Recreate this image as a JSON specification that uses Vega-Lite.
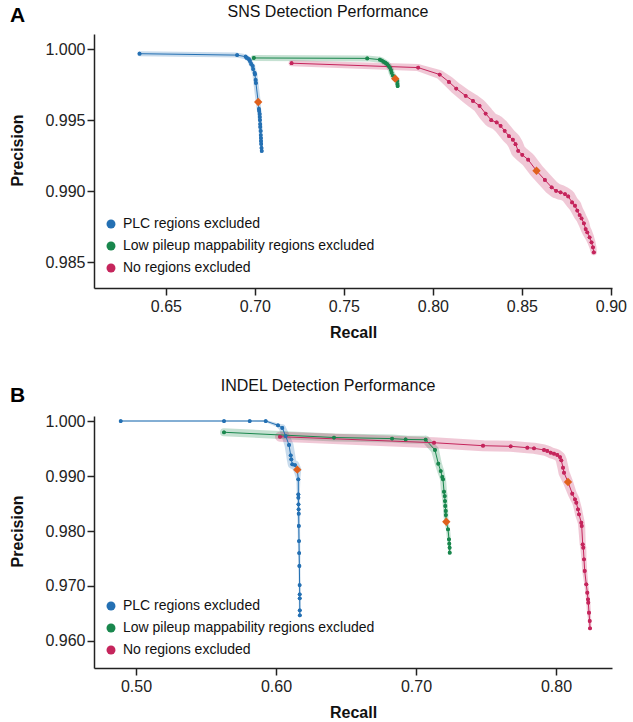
{
  "$schema": "https://vega.github.io/schema/vega-lite/v6.json",
  "padding": {"left": 9, "top": 4, "right": 5, "bottom": 0},
  "spacing": 38,
  "resolve": {"scale": {"color": "independent"}, "legend": {"color": "independent"}},
  "config": {
    "font": "Liberation Sans",
    "view": {"stroke": null},
    "axis": {"grid": false, "domainColor": "#222", "domainWidth": 1.5, "tickColor": "#222", "tickWidth": 1.5, "tickSize": 7, "labelFont": "Liberation Sans", "labelFontSize": 16, "labelColor": "#222", "labelPadding": 2, "titleFont": "Liberation Sans", "titleFontSize": 16, "titleFontWeight": "bold", "titleColor": "#111"},
    "axisX": {"labelPadding": 3, "titlePadding": 10},
    "axisY": {"titlePadding": 19},
    "title": {"font": "Liberation Sans", "fontSize": 16, "fontWeight": "normal", "color": "#111"},
    "legend": {"orient": "none", "legendX": 10, "legendY": 183, "title": null, "symbolType": "circle", "symbolSize": 80, "symbolOpacity": 1, "symbolStrokeWidth": 0, "labelFont": "Liberation Sans", "labelFontSize": 14, "labelColor": "#111", "labelLimit": 0, "rowPadding": 8, "labelOffset": 5, "padding": 0}
  },
  "datasets": {
    "sns": [
      {"set": "PLC regions excluded", "recall": 0.6352, "precision": 0.9997, "ci": 0.25},
      {"set": "PLC regions excluded", "recall": 0.6900, "precision": 0.9996, "ci": 0.25},
      {"set": "PLC regions excluded", "recall": 0.69478, "precision": 0.99949, "ci": 0.25},
      {"set": "PLC regions excluded", "recall": 0.69551, "precision": 0.99940, "ci": 0.25},
      {"set": "PLC regions excluded", "recall": 0.69663, "precision": 0.99931, "ci": 0.25},
      {"set": "PLC regions excluded", "recall": 0.69719, "precision": 0.99919, "ci": 0.25},
      {"set": "PLC regions excluded", "recall": 0.69792, "precision": 0.99898, "ci": 0.25},
      {"set": "PLC regions excluded", "recall": 0.69871, "precision": 0.99884, "ci": 0.25},
      {"set": "PLC regions excluded", "recall": 0.69904, "precision": 0.99862, "ci": 0.25},
      {"set": "PLC regions excluded", "recall": 0.69983, "precision": 0.99834, "ci": 0.25},
      {"set": "PLC regions excluded", "recall": 0.70000, "precision": 0.99825, "ci": 0.25},
      {"set": "PLC regions excluded", "recall": 0.70039, "precision": 0.99785, "ci": 0.25},
      {"set": "PLC regions excluded", "recall": 0.70056, "precision": 0.99764, "ci": 0.25},
      {"set": "PLC regions excluded", "recall": 0.70185, "precision": 0.99629, "ci": 0.25, "best": true},
      {"set": "PLC regions excluded", "recall": 0.70225, "precision": 0.99580, "ci": 0.22},
      {"set": "PLC regions excluded", "recall": 0.70242, "precision": 0.99566, "ci": 0.22},
      {"set": "PLC regions excluded", "recall": 0.70264, "precision": 0.99545, "ci": 0.22},
      {"set": "PLC regions excluded", "recall": 0.70270, "precision": 0.99524, "ci": 0.22},
      {"set": "PLC regions excluded", "recall": 0.70281, "precision": 0.99502, "ci": 0.2},
      {"set": "PLC regions excluded", "recall": 0.70298, "precision": 0.99474, "ci": 0.2},
      {"set": "PLC regions excluded", "recall": 0.70303, "precision": 0.99453, "ci": 0.2},
      {"set": "PLC regions excluded", "recall": 0.70320, "precision": 0.99425, "ci": 0.2},
      {"set": "PLC regions excluded", "recall": 0.70326, "precision": 0.99396, "ci": 0.18},
      {"set": "PLC regions excluded", "recall": 0.70337, "precision": 0.99375, "ci": 0.18},
      {"set": "PLC regions excluded", "recall": 0.70343, "precision": 0.99354, "ci": 0.18},
      {"set": "PLC regions excluded", "recall": 0.70354, "precision": 0.99333, "ci": 0.16},
      {"set": "PLC regions excluded", "recall": 0.70371, "precision": 0.99305, "ci": 0.15},
      {"set": "PLC regions excluded", "recall": 0.70382, "precision": 0.99284, "ci": 0.15},

      {"set": "Low pileup mappability regions excluded", "recall": 0.6994, "precision": 0.99940, "ci": 0.3},
      {"set": "Low pileup mappability regions excluded", "recall": 0.7631, "precision": 0.99937, "ci": 0.3},
      {"set": "Low pileup mappability regions excluded", "recall": 0.77022, "precision": 0.99928, "ci": 0.3},
      {"set": "Low pileup mappability regions excluded", "recall": 0.77135, "precision": 0.99922, "ci": 0.3},
      {"set": "Low pileup mappability regions excluded", "recall": 0.77247, "precision": 0.99912, "ci": 0.3},
      {"set": "Low pileup mappability regions excluded", "recall": 0.77343, "precision": 0.99905, "ci": 0.3},
      {"set": "Low pileup mappability regions excluded", "recall": 0.77433, "precision": 0.99896, "ci": 0.3},
      {"set": "Low pileup mappability regions excluded", "recall": 0.77511, "precision": 0.99884, "ci": 0.3},
      {"set": "Low pileup mappability regions excluded", "recall": 0.77584, "precision": 0.99872, "ci": 0.3},
      {"set": "Low pileup mappability regions excluded", "recall": 0.77640, "precision": 0.99855, "ci": 0.3},
      {"set": "Low pileup mappability regions excluded", "recall": 0.77680, "precision": 0.99836, "ci": 0.3},
      {"set": "Low pileup mappability regions excluded", "recall": 0.77753, "precision": 0.99816, "ci": 0.3},
      {"set": "Low pileup mappability regions excluded", "recall": 0.77882, "precision": 0.99794, "ci": 0.3, "best": true},
      {"set": "Low pileup mappability regions excluded", "recall": 0.77994, "precision": 0.99778, "ci": 0.28},
      {"set": "Low pileup mappability regions excluded", "recall": 0.78006, "precision": 0.99756, "ci": 0.25},
      {"set": "Low pileup mappability regions excluded", "recall": 0.78017, "precision": 0.99742, "ci": 0.2},

      {"set": "No regions excluded", "recall": 0.7206, "precision": 0.99903, "ci": 0.3},
      {"set": "No regions excluded", "recall": 0.7917, "precision": 0.99872, "ci": 0.35},
      {"set": "No regions excluded", "recall": 0.8038, "precision": 0.99823, "ci": 0.45},
      {"set": "No regions excluded", "recall": 0.8090, "precision": 0.99771, "ci": 0.55},
      {"set": "No regions excluded", "recall": 0.8131, "precision": 0.99724, "ci": 0.6},
      {"set": "No regions excluded", "recall": 0.8184, "precision": 0.99673, "ci": 0.65},
      {"set": "No regions excluded", "recall": 0.8225, "precision": 0.99637, "ci": 0.7},
      {"set": "No regions excluded", "recall": 0.8262, "precision": 0.99602, "ci": 0.7},
      {"set": "No regions excluded", "recall": 0.8296, "precision": 0.99548, "ci": 0.75},
      {"set": "No regions excluded", "recall": 0.8328, "precision": 0.99501, "ci": 0.75},
      {"set": "No regions excluded", "recall": 0.8358, "precision": 0.99485, "ci": 0.75},
      {"set": "No regions excluded", "recall": 0.8380, "precision": 0.99461, "ci": 0.75},
      {"set": "No regions excluded", "recall": 0.8403, "precision": 0.99426, "ci": 0.75},
      {"set": "No regions excluded", "recall": 0.8427, "precision": 0.99389, "ci": 0.75},
      {"set": "No regions excluded", "recall": 0.8449, "precision": 0.99363, "ci": 0.75},
      {"set": "No regions excluded", "recall": 0.8464, "precision": 0.99332, "ci": 0.75},
      {"set": "No regions excluded", "recall": 0.8479, "precision": 0.99285, "ci": 0.75},
      {"set": "No regions excluded", "recall": 0.8502, "precision": 0.99257, "ci": 0.75},
      {"set": "No regions excluded", "recall": 0.8535, "precision": 0.99222, "ci": 0.75},
      {"set": "No regions excluded", "recall": 0.8582, "precision": 0.99144, "ci": 0.75, "best": true},
      {"set": "No regions excluded", "recall": 0.8629, "precision": 0.99079, "ci": 0.75},
      {"set": "No regions excluded", "recall": 0.8667, "precision": 0.99027, "ci": 0.75},
      {"set": "No regions excluded", "recall": 0.8692, "precision": 0.99003, "ci": 0.75},
      {"set": "No regions excluded", "recall": 0.8717, "precision": 0.98992, "ci": 0.75},
      {"set": "No regions excluded", "recall": 0.8742, "precision": 0.98980, "ci": 0.7},
      {"set": "No regions excluded", "recall": 0.8760, "precision": 0.98963, "ci": 0.7},
      {"set": "No regions excluded", "recall": 0.8782, "precision": 0.98921, "ci": 0.65},
      {"set": "No regions excluded", "recall": 0.8798, "precision": 0.98898, "ci": 0.65},
      {"set": "No regions excluded", "recall": 0.8811, "precision": 0.98863, "ci": 0.6},
      {"set": "No regions excluded", "recall": 0.8824, "precision": 0.98832, "ci": 0.6},
      {"set": "No regions excluded", "recall": 0.8835, "precision": 0.98808, "ci": 0.55},
      {"set": "No regions excluded", "recall": 0.8848, "precision": 0.98773, "ci": 0.55},
      {"set": "No regions excluded", "recall": 0.8858, "precision": 0.98733, "ci": 0.5},
      {"set": "No regions excluded", "recall": 0.8867, "precision": 0.98710, "ci": 0.5},
      {"set": "No regions excluded", "recall": 0.8880, "precision": 0.98675, "ci": 0.45},
      {"set": "No regions excluded", "recall": 0.8891, "precision": 0.98639, "ci": 0.4},
      {"set": "No regions excluded", "recall": 0.8899, "precision": 0.98604, "ci": 0.35},
      {"set": "No regions excluded", "recall": 0.8904, "precision": 0.98569, "ci": 0.3}
    ],
    "indel": [
      {"set": "PLC regions excluded", "recall": 0.48907, "precision": 1.0, "ci": 0.05},
      {"set": "PLC regions excluded", "recall": 0.56286, "precision": 1.0, "ci": 0.05},
      {"set": "PLC regions excluded", "recall": 0.58121, "precision": 1.0, "ci": 0.05},
      {"set": "PLC regions excluded", "recall": 0.59264, "precision": 1.0, "ci": 0.1},
      {"set": "PLC regions excluded", "recall": 0.60143, "precision": 0.99922, "ci": 0.2},
      {"set": "PLC regions excluded", "recall": 0.60450, "precision": 0.99873, "ci": 0.35},
      {"set": "PLC regions excluded", "recall": 0.60693, "precision": 0.99727, "ci": 0.4},
      {"set": "PLC regions excluded", "recall": 0.60929, "precision": 0.99564, "ci": 0.45},
      {"set": "PLC regions excluded", "recall": 0.61050, "precision": 0.99376, "ci": 0.45},
      {"set": "PLC regions excluded", "recall": 0.61093, "precision": 0.99304, "ci": 0.45},
      {"set": "PLC regions excluded", "recall": 0.61164, "precision": 0.99213, "ci": 0.45},
      {"set": "PLC regions excluded", "recall": 0.61357, "precision": 0.99200, "ci": 0.45},
      {"set": "PLC regions excluded", "recall": 0.61521, "precision": 0.99115, "ci": 0.4, "best": true},
      {"set": "PLC regions excluded", "recall": 0.61593, "precision": 0.98940, "ci": 0.2},
      {"set": "PLC regions excluded", "recall": 0.61596, "precision": 0.98667, "ci": 0.15},
      {"set": "PLC regions excluded", "recall": 0.61600, "precision": 0.98605, "ci": 0.15},
      {"set": "PLC regions excluded", "recall": 0.61607, "precision": 0.98485, "ci": 0.15},
      {"set": "PLC regions excluded", "recall": 0.61614, "precision": 0.98395, "ci": 0.15},
      {"set": "PLC regions excluded", "recall": 0.61621, "precision": 0.98315, "ci": 0.15},
      {"set": "PLC regions excluded", "recall": 0.61629, "precision": 0.98091, "ci": 0.12},
      {"set": "PLC regions excluded", "recall": 0.61643, "precision": 0.97818, "ci": 0.12},
      {"set": "PLC regions excluded", "recall": 0.61657, "precision": 0.97600, "ci": 0.12},
      {"set": "PLC regions excluded", "recall": 0.61671, "precision": 0.97364, "ci": 0.1},
      {"set": "PLC regions excluded", "recall": 0.61686, "precision": 0.97018, "ci": 0.1},
      {"set": "PLC regions excluded", "recall": 0.61693, "precision": 0.96849, "ci": 0.1},
      {"set": "PLC regions excluded", "recall": 0.61695, "precision": 0.96776, "ci": 0.1},
      {"set": "PLC regions excluded", "recall": 0.61700, "precision": 0.96558, "ci": 0.1},
      {"set": "PLC regions excluded", "recall": 0.61702, "precision": 0.96467, "ci": 0.1},

      {"set": "Low pileup mappability regions excluded", "recall": 0.56286, "precision": 0.99795, "ci": 0.4},
      {"set": "Low pileup mappability regions excluded", "recall": 0.64143, "precision": 0.99700, "ci": 0.4},
      {"set": "Low pileup mappability regions excluded", "recall": 0.68290, "precision": 0.99680, "ci": 0.4},
      {"set": "Low pileup mappability regions excluded", "recall": 0.69260, "precision": 0.99665, "ci": 0.4},
      {"set": "Low pileup mappability regions excluded", "recall": 0.70690, "precision": 0.99660, "ci": 0.4},
      {"set": "Low pileup mappability regions excluded", "recall": 0.71357, "precision": 0.99473, "ci": 0.4},
      {"set": "Low pileup mappability regions excluded", "recall": 0.71593, "precision": 0.99224, "ci": 0.35},
      {"set": "Low pileup mappability regions excluded", "recall": 0.71764, "precision": 0.99091, "ci": 0.35},
      {"set": "Low pileup mappability regions excluded", "recall": 0.71879, "precision": 0.98982, "ci": 0.3},
      {"set": "Low pileup mappability regions excluded", "recall": 0.71929, "precision": 0.98940, "ci": 0.3},
      {"set": "Low pileup mappability regions excluded", "recall": 0.72000, "precision": 0.98715, "ci": 0.3},
      {"set": "Low pileup mappability regions excluded", "recall": 0.72050, "precision": 0.98636, "ci": 0.3},
      {"set": "Low pileup mappability regions excluded", "recall": 0.72071, "precision": 0.98545, "ci": 0.25},
      {"set": "Low pileup mappability regions excluded", "recall": 0.72093, "precision": 0.98455, "ci": 0.25},
      {"set": "Low pileup mappability regions excluded", "recall": 0.72121, "precision": 0.98364, "ci": 0.25},
      {"set": "Low pileup mappability regions excluded", "recall": 0.72129, "precision": 0.98291, "ci": 0.25},
      {"set": "Low pileup mappability regions excluded", "recall": 0.72164, "precision": 0.98169, "ci": 0.2, "best": true},
      {"set": "Low pileup mappability regions excluded", "recall": 0.72286, "precision": 0.98031, "ci": 0.2},
      {"set": "Low pileup mappability regions excluded", "recall": 0.72357, "precision": 0.97849, "ci": 0.2},
      {"set": "Low pileup mappability regions excluded", "recall": 0.72379, "precision": 0.97769, "ci": 0.15},
      {"set": "Low pileup mappability regions excluded", "recall": 0.72400, "precision": 0.97696, "ci": 0.15},
      {"set": "Low pileup mappability regions excluded", "recall": 0.72407, "precision": 0.97605, "ci": 0.15},

      {"set": "No regions excluded", "recall": 0.60286, "precision": 0.99715, "ci": 0.5},
      {"set": "No regions excluded", "recall": 0.71286, "precision": 0.99605, "ci": 0.55},
      {"set": "No regions excluded", "recall": 0.74786, "precision": 0.99551, "ci": 0.55},
      {"set": "No regions excluded", "recall": 0.76764, "precision": 0.99540, "ci": 0.55},
      {"set": "No regions excluded", "recall": 0.77950, "precision": 0.99515, "ci": 0.55},
      {"set": "No regions excluded", "recall": 0.78429, "precision": 0.99504, "ci": 0.55},
      {"set": "No regions excluded", "recall": 0.79143, "precision": 0.99473, "ci": 0.55},
      {"set": "No regions excluded", "recall": 0.79379, "precision": 0.99455, "ci": 0.55},
      {"set": "No regions excluded", "recall": 0.79621, "precision": 0.99424, "ci": 0.55},
      {"set": "No regions excluded", "recall": 0.79857, "precision": 0.99405, "ci": 0.55},
      {"set": "No regions excluded", "recall": 0.80093, "precision": 0.99382, "ci": 0.55},
      {"set": "No regions excluded", "recall": 0.80286, "precision": 0.99345, "ci": 0.55},
      {"set": "No regions excluded", "recall": 0.80379, "precision": 0.99285, "ci": 0.55},
      {"set": "No regions excluded", "recall": 0.80500, "precision": 0.99151, "ci": 0.55},
      {"set": "No regions excluded", "recall": 0.80571, "precision": 0.99060, "ci": 0.55},
      {"set": "No regions excluded", "recall": 0.80857, "precision": 0.98891, "ci": 0.5, "best": true},
      {"set": "No regions excluded", "recall": 0.81164, "precision": 0.98678, "ci": 0.45},
      {"set": "No regions excluded", "recall": 0.81357, "precision": 0.98576, "ci": 0.45},
      {"set": "No regions excluded", "recall": 0.81450, "precision": 0.98515, "ci": 0.4},
      {"set": "No regions excluded", "recall": 0.81571, "precision": 0.98395, "ci": 0.4},
      {"set": "No regions excluded", "recall": 0.81643, "precision": 0.98304, "ci": 0.4},
      {"set": "No regions excluded", "recall": 0.81807, "precision": 0.98151, "ci": 0.35},
      {"set": "No regions excluded", "recall": 0.81836, "precision": 0.98091, "ci": 0.35},
      {"set": "No regions excluded", "recall": 0.81907, "precision": 0.97758, "ci": 0.3},
      {"set": "No regions excluded", "recall": 0.81950, "precision": 0.97696, "ci": 0.3},
      {"set": "No regions excluded", "recall": 0.82000, "precision": 0.97485, "ci": 0.25},
      {"set": "No regions excluded", "recall": 0.82050, "precision": 0.97273, "ci": 0.25},
      {"set": "No regions excluded", "recall": 0.82164, "precision": 0.97031, "ci": 0.2},
      {"set": "No regions excluded", "recall": 0.82236, "precision": 0.96878, "ci": 0.2},
      {"set": "No regions excluded", "recall": 0.82286, "precision": 0.96758, "ci": 0.2},
      {"set": "No regions excluded", "recall": 0.82307, "precision": 0.96696, "ci": 0.2},
      {"set": "No regions excluded", "recall": 0.82357, "precision": 0.96515, "ci": 0.2},
      {"set": "No regions excluded", "recall": 0.82407, "precision": 0.96364, "ci": 0.15},
      {"set": "No regions excluded", "recall": 0.82429, "precision": 0.96231, "ci": 0.15}
    ]
  },
  "vconcat": [
    {
      "title": {"text": "A", "anchor": "start", "frame": "bounds", "fontSize": 21, "fontWeight": "bold", "color": "#000", "offset": -22},
      "resolve": {"scale": {"color": "independent"}, "legend": {"color": "independent"}},
      "vconcat": [
        {
          "width": 518,
          "height": 254,
          "title": {"text": "SNS Detection Performance", "dx": -25, "offset": 14},
          "data": {"name": "sns"},
          "encoding": {
            "x": {"field": "recall", "type": "quantitative", "scale": {"domain": [0.6096, 0.9006], "nice": false, "zero": false}, "axis": {"title": "Recall", "values": [0.65, 0.7, 0.75, 0.8, 0.85, 0.9], "format": ".2f"}},
            "y": {"field": "precision", "type": "quantitative", "scale": {"domain": [0.98317, 1.00109], "nice": false, "zero": false}, "axis": {"title": "Precision", "values": [0.985, 0.99, 0.995, 1.0], "format": ".3f", "titleY": 116}},
            "color": {"field": "set", "type": "nominal", "scale": {"domain": ["PLC regions excluded", "Low pileup mappability regions excluded", "No regions excluded"], "range": ["#2470b3", "#19874d", "#c5255c"]}},
            "order": [{"field": "precision", "sort": "descending"}, {"field": "recall", "sort": "ascending"}]
          },
          "layer": [
            {
              "mark": {"type": "point", "filled": true, "size": 14, "opacity": 1}
            },
            {
              "mark": {"type": "trail", "opacity": 0.25},
              "encoding": {
                "size": {"field": "ci", "type": "quantitative", "scale": {"domain": [0, 1], "range": [0, 20]}, "legend": null}
              }
            },
            {
              "mark": {"type": "line", "strokeWidth": 1}
            },
            {
              "mark": {"type": "point", "filled": true, "size": 14, "opacity": 1}
            },
            {
              "transform": [{"filter": "datum.best === true"}],
              "mark": {"type": "point", "shape": "diamond", "filled": true, "size": 70, "opacity": 1},
              "encoding": {"color": {"value": "#e0601c"}}
            }
          ]
        }
      ]
    },
    {
      "title": {"text": "B", "anchor": "start", "frame": "bounds", "fontSize": 21, "fontWeight": "bold", "color": "#000", "offset": -28},
      "resolve": {"scale": {"color": "independent"}, "legend": {"color": "independent"}},
      "vconcat": [
        {
          "width": 518,
          "height": 252,
          "title": {"text": "INDEL Detection Performance", "dx": -25, "offset": 19},
          "data": {"name": "indel"},
          "encoding": {
            "x": {"field": "recall", "type": "quantitative", "scale": {"domain": [0.47, 0.84], "nice": false, "zero": false}, "axis": {"title": "Recall", "values": [0.5, 0.6, 0.7, 0.8], "format": ".2f"}},
            "y": {"field": "precision", "type": "quantitative", "scale": {"domain": [0.95509, 1.00091], "nice": false, "zero": false}, "axis": {"title": "Precision", "values": [0.96, 0.97, 0.98, 0.99, 1.0], "format": ".3f", "titleY": 115}},
            "color": {"field": "set", "type": "nominal", "scale": {"domain": ["PLC regions excluded", "Low pileup mappability regions excluded", "No regions excluded"], "range": ["#2470b3", "#19874d", "#c5255c"]}},
            "order": [{"field": "precision", "sort": "descending"}, {"field": "recall", "sort": "ascending"}]
          },
          "layer": [
            {
              "mark": {"type": "point", "filled": true, "size": 14, "opacity": 1}
            },
            {
              "mark": {"type": "trail", "opacity": 0.25},
              "encoding": {
                "size": {"field": "ci", "type": "quantitative", "scale": {"domain": [0, 1], "range": [0, 20]}, "legend": null}
              }
            },
            {
              "mark": {"type": "line", "strokeWidth": 1}
            },
            {
              "mark": {"type": "point", "filled": true, "size": 14, "opacity": 1}
            },
            {
              "transform": [{"filter": "datum.best === true"}],
              "mark": {"type": "point", "shape": "diamond", "filled": true, "size": 70, "opacity": 1},
              "encoding": {"color": {"value": "#e0601c"}}
            }
          ]
        }
      ]
    }
  ]
}
